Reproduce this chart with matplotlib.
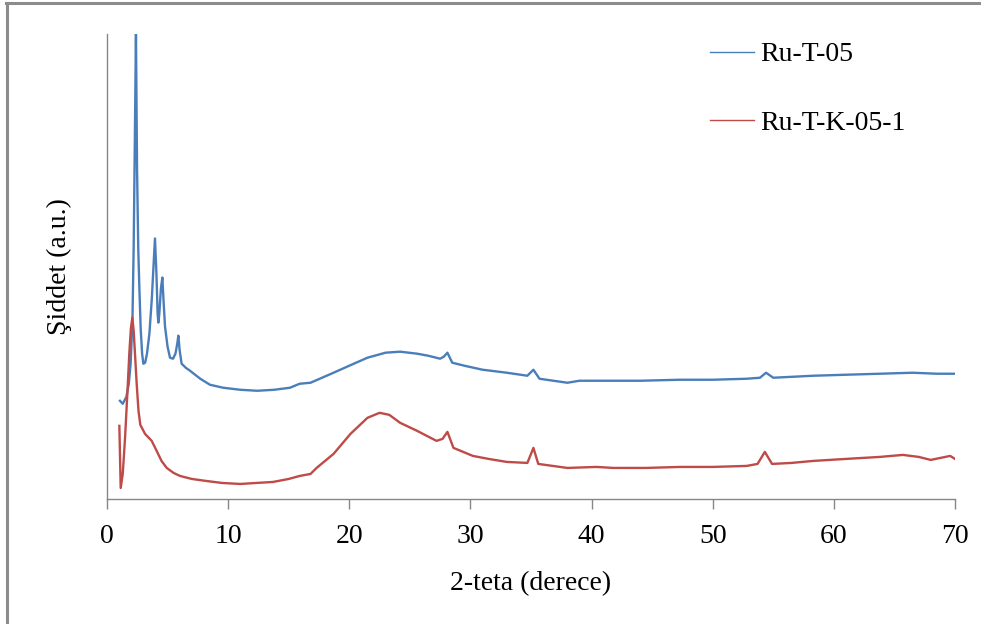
import matplotlib
matplotlib.use("Agg")
import matplotlib.pyplot as plt
from matplotlib.lines import Line2D

# ---- data (intensity in arbitrary units) ----
blue_label = "Ru-T-05"
blue_x = [1.07, 1.3, 1.6, 1.8, 1.95, 2.1, 2.2, 2.3, 2.39, 2.48, 2.58, 2.67, 2.78,
          2.9, 3.0, 3.15, 3.3, 3.5, 3.7, 3.85, 3.96, 4.08, 4.18, 4.24, 4.32, 4.45,
          4.57, 4.68, 4.79, 5.0, 5.2, 5.45, 5.65, 5.8, 5.89, 6.0, 6.16, 6.5,
          6.85, 7.7, 8.5, 9.6, 11.0, 12.4, 13.8, 15.1, 15.9, 16.8, 18.7, 20.0, 21.5,
          23.0, 24.2, 25.6, 26.5, 27.5, 27.8, 28.1, 28.5, 29.5, 31.0, 33.0, 34.7,
          35.2, 35.7, 38.0, 39.0, 40.7, 44.0, 47.3, 50.0, 52.8, 53.9, 54.4, 55.0,
          58.3, 61.0, 63.8, 66.5, 68.5, 70.0]
blue_y = [98, 95, 102, 115, 135, 178, 250, 360, 465, 330, 250, 211, 170,
          145, 135, 136, 145, 165, 200, 235, 260, 225, 185, 176, 185, 210,
          221, 195, 172, 152, 141, 140, 145, 155, 163, 148, 135, 131,
          128, 120, 114, 111, 109, 108, 109, 111, 115, 116, 126, 133, 141,
          146, 147, 145, 143, 140, 142, 146, 136, 133, 129, 126, 123,
          129, 120, 116, 118, 118, 118, 119, 119, 120, 121, 126, 121,
          123, 124, 125, 126, 125, 125]

red_label = "Ru-T-K-05-1"
red_x = [1.02, 1.13, 1.3, 1.49, 1.7, 1.84, 1.97, 2.09, 2.2, 2.31, 2.45, 2.6, 2.75,
         3.14, 3.69, 4.1, 4.5, 4.93, 5.5, 6.03, 7.0, 8.2, 9.5, 11.0, 12.3, 13.7,
         15.0, 15.9, 16.8, 17.3, 18.7, 20.1, 21.5, 22.5, 23.3, 24.2, 25.6, 27.2,
         27.7, 28.1, 28.6, 30.2, 31.5, 33.0, 34.7, 35.2, 35.6, 38.0, 40.4, 41.8,
         44.5, 47.3, 50.0, 52.8, 53.7, 54.3, 54.9, 56.5, 58.3, 61.0, 63.8, 65.7,
         67.0, 68.0, 69.6, 70.0]
red_y = [73, 11, 25, 61, 110, 145, 170, 181, 168, 145, 115, 88, 74,
         65, 58, 48, 38, 31, 26, 23, 20, 18, 16, 15, 16, 17,
         20, 23, 25, 31, 45, 65, 81, 86, 84, 76, 68, 58,
         60, 67, 51, 43, 40, 37, 36, 51, 35, 31, 32, 31,
         31, 32, 32, 33, 35, 47, 35, 36, 38, 40, 42, 44,
         42, 39, 43, 40]

x_ticks = [0, 10, 20, 30, 40, 50, 60, 70]
x_label = "2-teta (derece)"
y_label = "Şiddet (a.u.)"

# ---- figure ----
plt.rcParams["font.family"] = ["Liberation Serif", "DejaVu Serif"]
fig = plt.figure(figsize=(9.81, 6.24), dpi=100)
ax = fig.add_axes([107 / 981, 1 - 499 / 624, (955 - 107) / 981, (499 - 34) / 624])

blue_c = "#4A7EBB"
red_c = "#BE4B48"
ax.plot(blue_x, blue_y, color=blue_c, lw=1.7, label=blue_label)
ax.plot(red_x, red_y, color=red_c, lw=1.7, label=red_label)

ax.set_xlim(0, 70)
ax.set_ylim(0, 464)
ax.set_xticks(x_ticks)
ax.set_xticklabels([str(t) for t in x_ticks], fontsize=20)
ax.set_yticks([])
for s in ("top", "right"):
    ax.spines[s].set_visible(False)
for s in ("left", "bottom"):
    ax.spines[s].set_color("#868686")
    ax.spines[s].set_linewidth(1.0)
ax.tick_params(axis="x", direction="out", length=7, width=1.0, color="#868686",
               pad=11)

ax.set_xlabel(x_label, fontsize=20, labelpad=16)
ax.set_ylabel(y_label, fontsize=20, labelpad=25)

leg = ax.legend(loc="upper left", bbox_to_anchor=(710 / 981, 1 - 42 / 624),
                bbox_transform=fig.transFigure, frameon=False, fontsize=20,
                handlelength=1.6, handletextpad=0.2, labelspacing=1.55,
                borderpad=0, borderaxespad=0)
for h in leg.get_lines():
    h.set_linewidth(1.0)

# outer frame (top and left edges)
fig.add_artist(Line2D([6 / 981, 1.0], [1 - 3 / 624, 1 - 3 / 624],
                      transform=fig.transFigure, color="#8C8C8C", lw=2.2))
fig.add_artist(Line2D([7 / 981, 7 / 981], [0, 1 - 3 / 624],
                      transform=fig.transFigure, color="#8C8C8C", lw=2.2))

fig.savefig("out.png", dpi=100)
